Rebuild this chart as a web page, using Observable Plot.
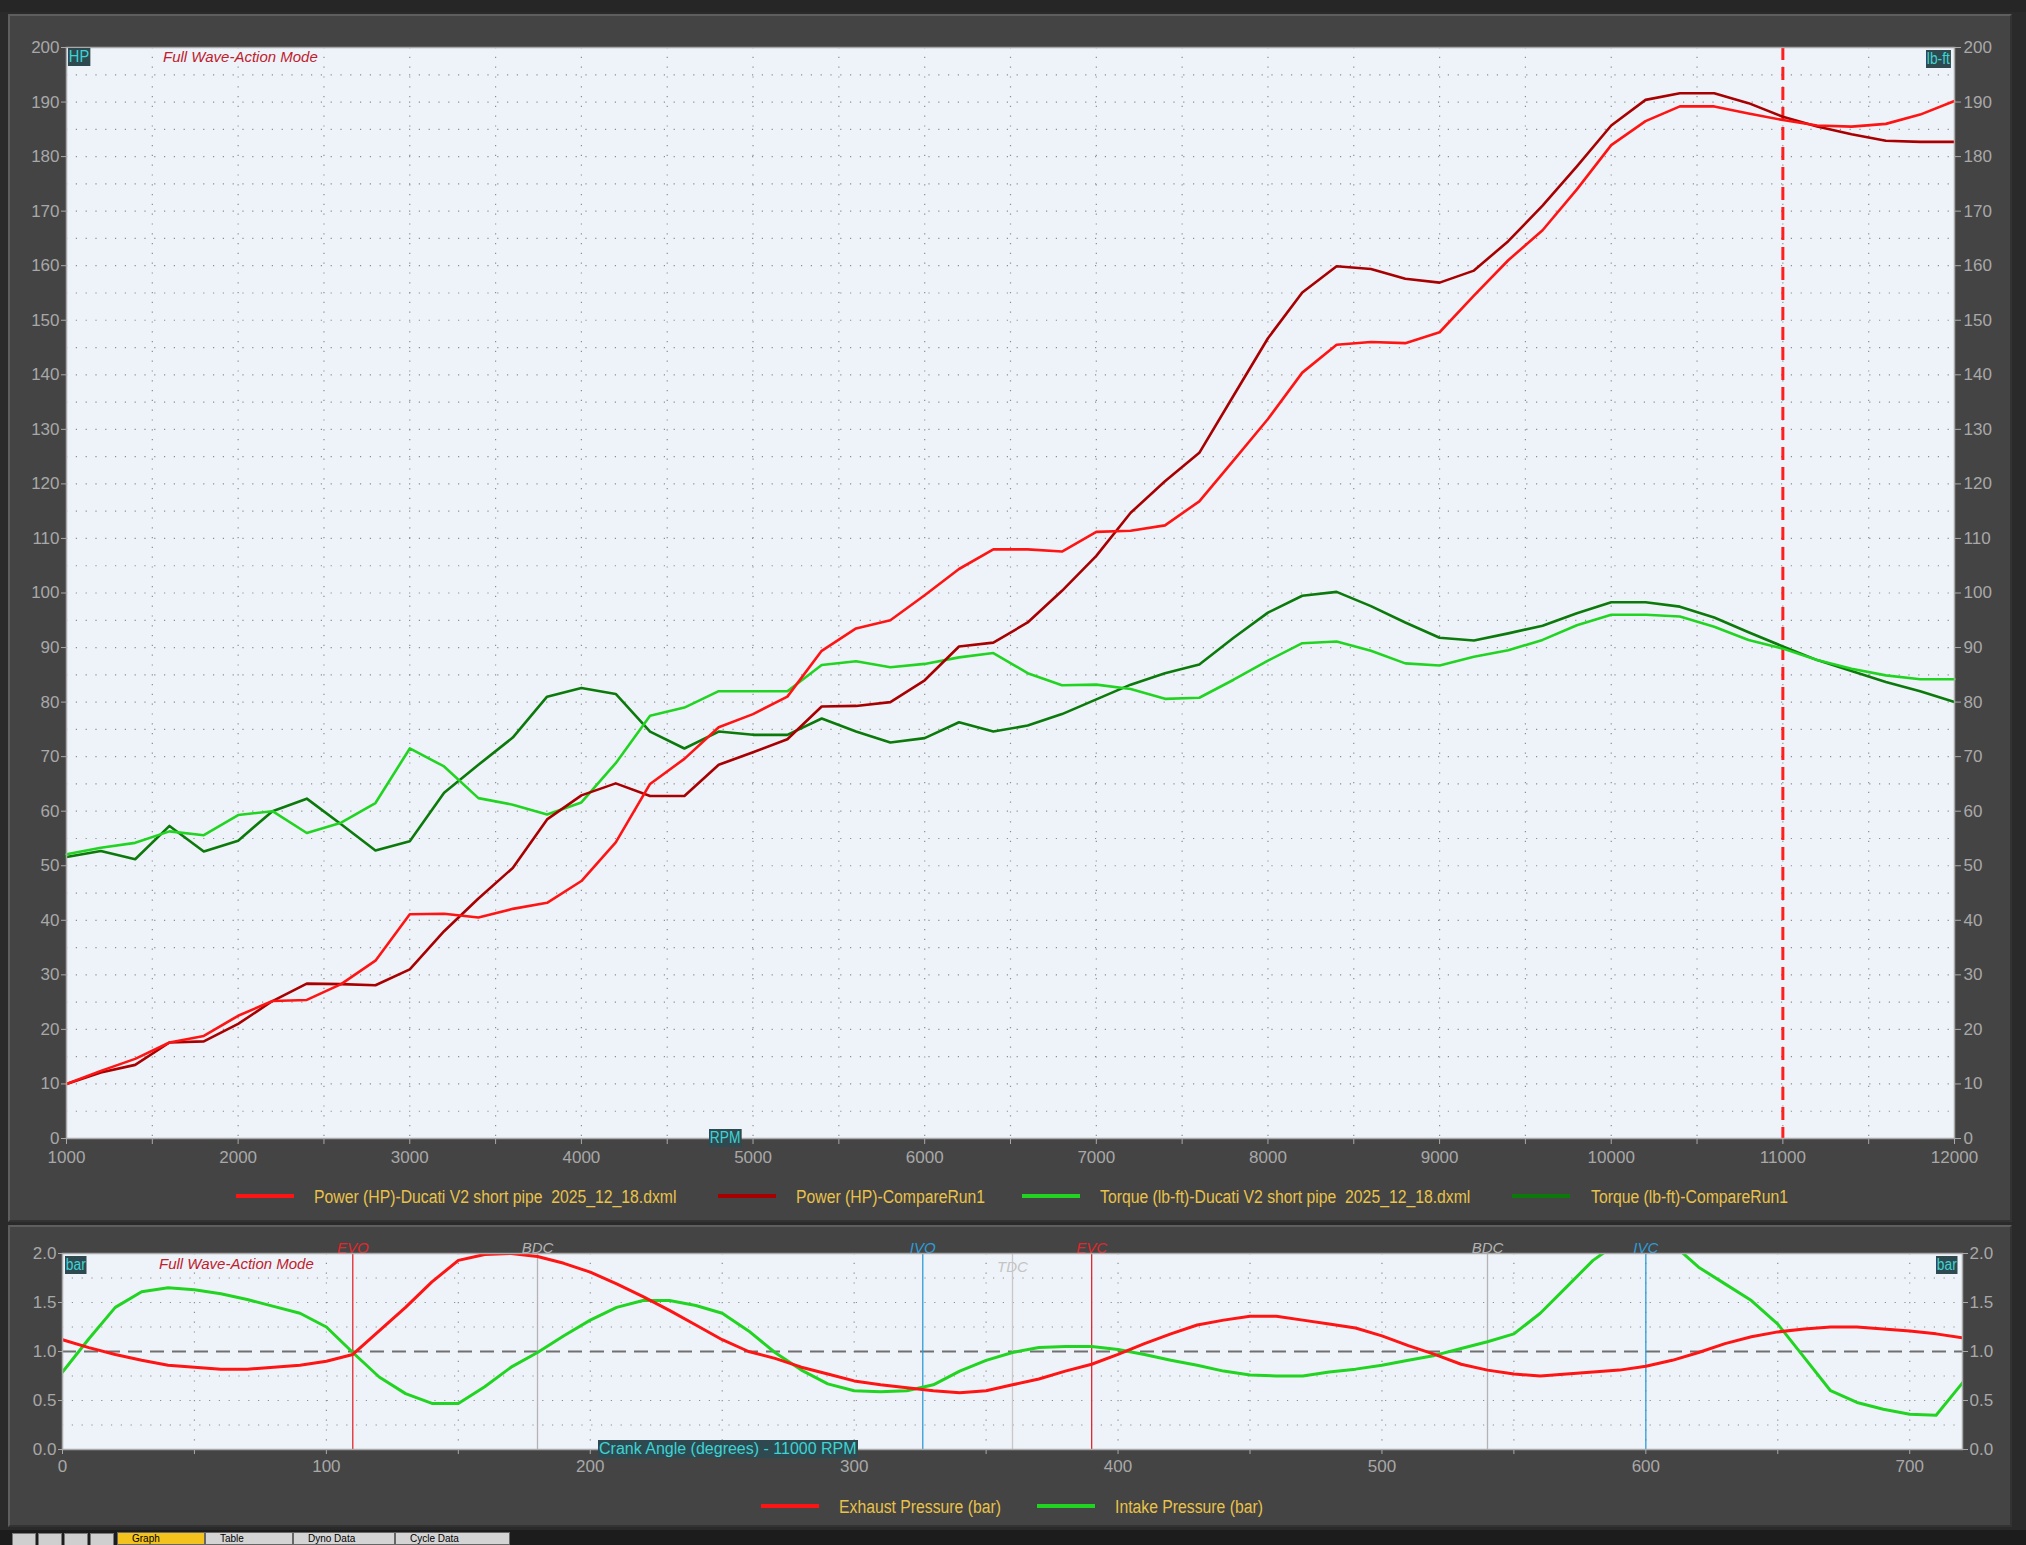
<!DOCTYPE html>
<html><head><meta charset="utf-8">
<script src="https://cdn.jsdelivr.net/npm/d3@7"></script>
<script src="https://cdn.jsdelivr.net/npm/@observablehq/plot@0.6"></script>
<style>
html,body{margin:0;padding:0;background:#2a2a2a;width:2026px;height:1545px;overflow:hidden;}
body{font-family:"Liberation Sans Narrow","Liberation Sans",Arial,sans-serif;}
#root{position:relative;width:2026px;height:1545px;overflow:hidden;}
.abs{position:absolute;}
.panel{position:absolute;background:#444444;box-sizing:border-box;border-top:2px solid #5e5e5e;border-left:2px solid #5e5e5e;border-right:2px solid #333;border-bottom:2px solid #333;}
.tag{position:absolute;background:#2e4a50;color:#3fd3d3;font-size:16px;line-height:18px;padding:0 1px;white-space:nowrap;transform:scaleX(0.86);transform-origin:left top;}
.fw{position:absolute;color:#c0202c;font-family:"Liberation Sans",Arial,sans-serif;font-style:italic;font-size:15px;white-space:nowrap;}
.leg{position:absolute;color:#e8c24a;font-size:18px;white-space:pre;line-height:20px;transform:scaleX(0.875);transform-origin:left top;}
.sw{position:absolute;height:4px;}
.tab{position:absolute;top:1532px;height:13px;font-family:"Liberation Sans",Arial,sans-serif;font-size:10px;color:#000;padding-left:14px;box-sizing:border-box;line-height:12px;}
</style></head><body>
<div id="root"></div>
<script>
// ---------- data: top chart (RPM sweep) ----------
const rpm = [1000,1200,1400,1600,1800,2000,2200,2400,2600,2800,3000,3200,3400,3600,3800,4000,4200,4400,4600,4800,5000,5200,5400,5600,5800,6000,6200,6400,6600,6800,7000,7200,7400,7600,7800,8000,8200,8400,8600,8800,9000,9200,9400,9600,9800,10000,10200,10400,10600,10800,11000,11200,11400,11600,11800,12000];
const powerDucati = [10.0,12.4,14.6,17.6,18.8,22.5,25.2,25.4,28.3,32.6,41.1,41.2,40.5,42.1,43.2,47.2,54.3,65.0,69.6,75.4,77.8,81.0,89.4,93.5,95.0,99.6,104.4,108.0,108.0,107.6,111.2,111.4,112.4,116.8,124.3,131.9,140.4,145.5,146.0,145.8,147.8,154.5,161.0,166.5,174.0,182.1,186.5,189.2,189.2,187.9,186.7,185.7,185.5,186.0,187.7,190.2];
const powerCompare = [10.0,12.1,13.5,17.6,17.8,21.0,25.2,28.4,28.3,28.1,31.0,38.0,44.0,49.6,58.5,62.9,65.1,62.8,62.8,68.5,70.8,73.2,79.2,79.3,80.0,84.0,90.2,90.9,94.6,100.4,106.8,114.7,120.5,125.7,136.2,146.7,155.1,159.9,159.4,157.6,156.9,159.1,164.5,171.0,178.2,185.7,190.4,191.6,191.6,189.8,187.3,185.5,184.1,182.9,182.7,182.7];
const torqueDucati = [52.1,53.3,54.2,56.3,55.6,59.3,60.0,56.0,57.9,61.5,71.5,68.2,62.4,61.2,59.4,61.6,68.8,77.5,79.0,82.0,82.0,82.0,86.8,87.5,86.4,87.0,88.2,89.0,85.3,83.1,83.2,82.4,80.6,80.8,84.1,87.6,90.8,91.1,89.4,87.1,86.7,88.3,89.5,91.4,94.1,96.0,96.0,95.7,93.8,91.4,89.8,87.7,86.1,84.9,84.2,84.2];
const torqueCompare = [51.6,52.7,51.2,57.3,52.6,54.6,60.0,62.3,57.6,52.8,54.5,63.4,68.5,73.5,81.0,82.6,81.5,74.6,71.5,74.6,74.0,74.0,77.0,74.6,72.6,73.4,76.3,74.6,75.7,77.8,80.5,83.2,85.3,86.9,91.8,96.4,99.5,100.2,97.6,94.6,91.8,91.3,92.6,94.0,96.3,98.3,98.3,97.5,95.5,92.8,90.2,87.7,85.7,83.7,82.0,80.0];
const seriesNames = ["Power (HP)-Ducati V2 short pipe  2025_12_18.dxml","Power (HP)-CompareRun1","Torque (lb-ft)-Ducati V2 short pipe  2025_12_18.dxml","Torque (lb-ft)-CompareRun1"];
const cursorRpm = [11000];
const rpmTickLabels = [1000,2000,3000,4000,5000,6000,7000,8000,9000,10000,11000,12000];
const hpTickLabels = [0,10,20,30,40,50,60,70,80,90,100,110,120,130,140,150,160,170,180,190,200];

// ---------- data: bottom chart (crank angle) ----------
const crankAngle = [0,10,20,30,40,50,60,70,80,90,100,110,120,130,140,150,160,170,180,190,200,210,220,230,240,250,260,270,280,290,300,310,320,330,340,350,360,370,380,390,400,410,420,430,440,450,460,470,480,490,500,510,520,530,540,550,560,570,580,590,600,610,620,630,640,650,660,670,680,690,700,710,720];
const exhaustP = [1.12,1.04,0.97,0.91,0.86,0.84,0.82,0.82,0.84,0.86,0.90,0.97,1.21,1.45,1.71,1.93,1.99,2.00,1.97,1.90,1.81,1.69,1.56,1.42,1.27,1.12,1.00,0.93,0.84,0.77,0.70,0.66,0.63,0.60,0.58,0.60,0.66,0.72,0.80,0.87,0.97,1.08,1.18,1.27,1.32,1.36,1.36,1.32,1.28,1.24,1.16,1.06,0.97,0.87,0.81,0.77,0.75,0.77,0.79,0.81,0.85,0.91,0.99,1.08,1.15,1.20,1.23,1.25,1.25,1.23,1.21,1.18,1.14];
const intakeP = [0.79,1.13,1.45,1.61,1.65,1.63,1.59,1.53,1.46,1.39,1.25,0.99,0.74,0.57,0.47,0.47,0.64,0.84,0.99,1.16,1.32,1.45,1.52,1.52,1.47,1.39,1.21,0.99,0.81,0.67,0.60,0.59,0.60,0.66,0.80,0.91,0.99,1.04,1.05,1.05,1.02,0.97,0.91,0.86,0.80,0.76,0.75,0.75,0.79,0.82,0.86,0.91,0.96,1.03,1.10,1.18,1.39,1.66,1.93,2.12,2.18,2.10,1.86,1.69,1.52,1.28,0.94,0.60,0.48,0.41,0.36,0.35,0.68];
const pressureNames = ["Exhaust Pressure (bar)","Intake Pressure (bar)"];
const eventAngles = [110,180,326,360,390,540,600];
const eventLabels = ["EVO","BDC","IVO","TDC","EVC","BDC","IVC"];
const crankTickLabels = [0,100,200,300,400,500,600,700];
const barTickLabels = [0,0.5,1.0,1.5,2.0];
const tabNames = ["Graph","Table","Dyno Data","Cycle Data"];

// ---------- styling ----------
const C = {red:"#ff1414", dred:"#a80000", green:"#22d422", dgreen:"#0b7a0b"};
const seriesColors = [C.red, C.dred, C.green, C.dgreen];
const eventColor = {EVO:"#e0282e", EVC:"#e0282e", BDC:"#b4b4b4", TDC:"#c8c8c8", IVO:"#2f9bd6", IVC:"#2f9bd6"};
const axisFont = '"Liberation Sans Narrow","Liberation Sans",Arial,sans-serif';
const root = document.getElementById("root");

function addDiv(cls, style, text){
  const d = document.createElement("div");
  d.className = cls;
  Object.assign(d.style, style);
  if (text != null) d.textContent = text;
  root.appendChild(d);
  return d;
}

// window chrome
addDiv("abs", {left:"0px",top:"0px",width:"2026px",height:"12px",background:"#262626"});
addDiv("panel", {left:"8px",top:"14px",width:"2004px",height:"1208px"});
addDiv("panel", {left:"8px",top:"1225px",width:"2004px",height:"302px"});
addDiv("abs", {left:"0px",top:"1530px",width:"2026px",height:"15px",background:"#1c1c1c"});

const grid = {stroke:"#8e8e8e", strokeOpacity:1, strokeWidth:1.2, strokeDasharray:"1.2,8.6"};
const plain = d => `${d}`;

// ---------- top chart ----------
const topSeries = [powerDucati, powerCompare, torqueDucati, torqueCompare];
const topData = topSeries.flatMap((arr, s) => rpm.map((r, i) => ({rpm: r, v: arr[i], s})));

const topPlot = Plot.plot({
  width: 2026, height: 1180,
  marginLeft: 66, marginRight: 72, marginTop: 47, marginBottom: 42,
  x: {domain: [1000, 12000]},
  y: {domain: [0, 200]},
  style: {background:"transparent", color:"#a8a8a8", fontFamily: axisFont, fontSize:"17px", overflow:"visible"},
  marks: [
    Plot.frame({fill:"#eef3f9", stroke:null}),
    Plot.gridY(d3.range(5, 200, 5), grid),
    Plot.gridX(d3.range(1500, 12000, 500), grid),
    Plot.ruleX(cursorRpm, {stroke:"#ff1e1e", strokeWidth:3, strokeDasharray:"13,7"}),
    ...[3,2,1,0].map(s => Plot.line(topData.filter(d => d.s === s), {x:"rpm", y:"v", stroke: seriesColors[s], strokeWidth: 2.6})),
    Plot.frame({stroke:"#a9a9a9", strokeWidth:1.5}),
    Plot.axisY(hpTickLabels, {anchor:"left", tickSize:5, tickPadding:2, tickFormat: plain, label:null}),
    Plot.axisY(hpTickLabels, {anchor:"right", tickSize:6, tickPadding:3, tickFormat: plain, label:null}),
    Plot.axisX(d3.range(1000, 12001, 500), {tickSize:6, tickFormat:() => "", label:null}),
    Plot.axisX(rpmTickLabels, {tickSize:0, tickPadding:12, tickFormat: plain, label:null})
  ]
});
topPlot.style.position = "absolute"; topPlot.style.left = "0px"; topPlot.style.top = "0px";
root.appendChild(topPlot);

// ---------- bottom chart ----------
const botData = [exhaustP, intakeP].flatMap((arr, s) => crankAngle.map((a, i) => ({a, v: arr[i], s})));
const events = eventAngles.map((a, i) => ({a, label: eventLabels[i]}));
const botPlot = Plot.plot({
  width: 2026, height: 250,
  marginLeft: 62, marginRight: 64, marginTop: 23, marginBottom: 31,
  x: {domain: [0, 720]},
  y: {domain: [0, 2]},
  style: {background:"transparent", color:"#a8a8a8", fontFamily: axisFont, fontSize:"17px", overflow:"visible"},
  marks: [
    Plot.frame({fill:"#eef3f9", stroke:null}),
    Plot.gridY([0.25,0.5,0.75,1.25,1.5,1.75], grid),
    Plot.gridX(d3.range(50, 720, 50), grid),
    Plot.ruleY([1], {stroke:"#707070", strokeWidth:2, strokeDasharray:"14,8"}),
    Plot.ruleX(events, {x:"a", stroke: d => eventColor[d.label], strokeWidth:1.3}),
    Plot.line(botData.filter(d => d.s === 1), {x:"a", y:"v", stroke:C.green, strokeWidth:3, clip:true}),
    Plot.line(botData.filter(d => d.s === 0), {x:"a", y:"v", stroke:C.red, strokeWidth:3, clip:true}),
    Plot.text(events.filter(d => d.label !== "TDC"), {x:"a", text:"label", frameAnchor:"top", dy:-11, fill: d => eventColor[d.label], fontStyle:"italic", fontSize:15, fontFamily:'"Liberation Sans",Arial,sans-serif'}),
    Plot.text(events.filter(d => d.label === "TDC"), {x:"a", text:"label", frameAnchor:"top", dy:8, fill:"#c4c4c4", fontStyle:"italic", fontSize:15, fontFamily:'"Liberation Sans",Arial,sans-serif'}),
    Plot.frame({stroke:"#a9a9a9", strokeWidth:1.5}),
    Plot.axisY(barTickLabels, {anchor:"left", tickSize:4, tickPadding:2, tickFormat: d => d.toFixed(1), label:null}),
    Plot.axisY(barTickLabels, {anchor:"right", tickSize:5, tickPadding:2, tickFormat: d => d.toFixed(1), label:null}),
    Plot.axisX(d3.range(0, 721, 50), {tickSize:5, tickFormat:() => "", label:null}),
    Plot.axisX(crankTickLabels, {tickSize:0, tickPadding:10, tickFormat: plain, label:null})
  ]
});
botPlot.style.position = "absolute"; botPlot.style.left = "0px"; botPlot.style.top = "1230px";
root.appendChild(botPlot);

// ---------- overlays: unit tags, mode text ----------
addDiv("tag", {left:"68px", top:"48px", fontSize:"17px"}, "HP");
addDiv("tag", {left:"1926px", top:"50px"}, "lb-ft");
addDiv("tag", {left:"709px", top:"1129px"}, "RPM");
addDiv("fw", {left:"163px", top:"48px"}, "Full Wave-Action Mode");
addDiv("tag", {left:"65px", top:"1256px"}, "bar");
addDiv("tag", {left:"1936px", top:"1256px"}, "bar");
addDiv("fw", {left:"159px", top:"1255px"}, "Full Wave-Action Mode");
addDiv("tag", {left:"598px", top:"1440px", transform:"none"}, "Crank Angle (degrees) - 11000 RPM");

// ---------- legends ----------
const topLegend = [[236,314],[718,796],[1022,1100],[1512,1591]];
seriesNames.forEach((n, i) => {
  addDiv("sw", {left: topLegend[i][0]+"px", top:"1194px", width:"58px", background: seriesColors[i]});
  addDiv("leg", {left: topLegend[i][1]+"px", top:"1187px"}, n);
});
const botLegend = [[761,839],[1037,1115]];
const pressureColors = [C.red, C.green];
pressureNames.forEach((n, i) => {
  addDiv("sw", {left: botLegend[i][0]+"px", top:"1504px", width:"58px", background: pressureColors[i]});
  addDiv("leg", {left: botLegend[i][1]+"px", top:"1497px"}, n);
});

// ---------- bottom tab strip ----------
[12,38,64,90].forEach(x => addDiv("abs", {left:x+"px", top:"1533px", width:"22px", height:"11px", background:"#cfcfcf", border:"1px solid #777"}));
const tabX = [[117,88,"#f3c21c"],[205,88,"#d4d4d4"],[293,102,"#d4d4d4"],[395,115,"#d4d4d4"]];
tabNames.forEach((t, i) => addDiv("tab", {left: tabX[i][0]+"px", width: tabX[i][1]+"px", background: tabX[i][2], border:"1px solid #666"}, t));
</script>
</body></html>
